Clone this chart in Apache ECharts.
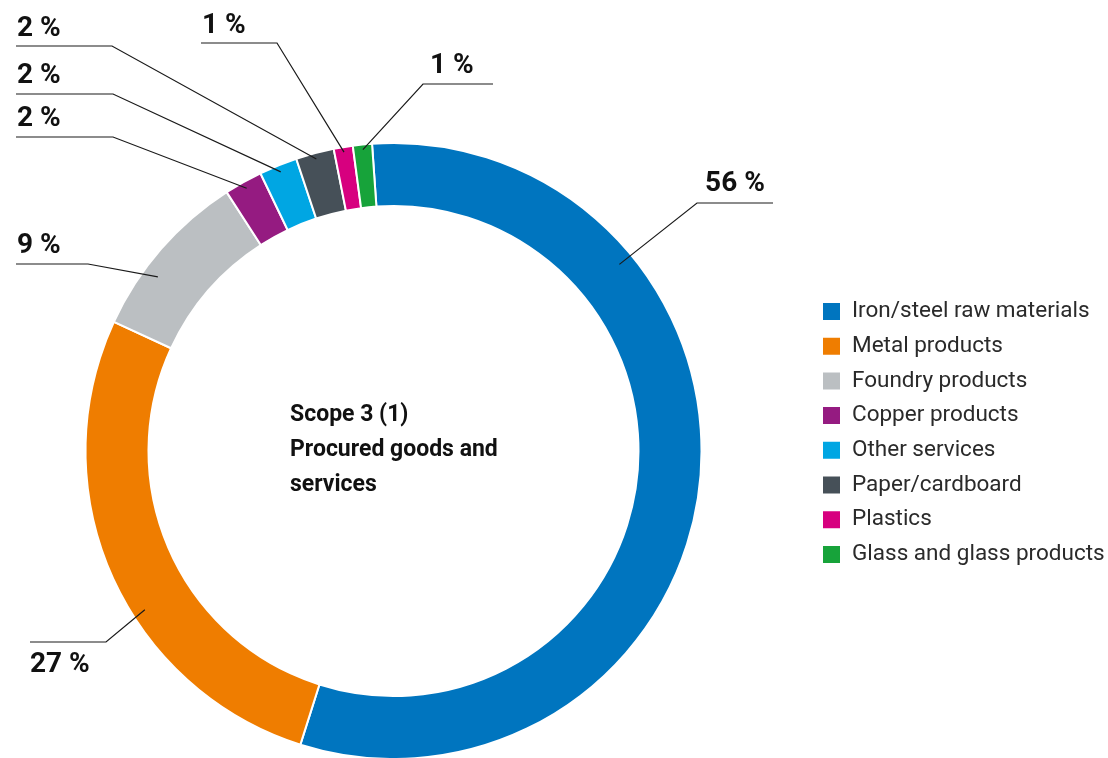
<!DOCTYPE html>
<html>
<head>
<meta charset="utf-8">
<script src="https://cdn.jsdelivr.net/npm/echarts@6/dist/echarts.min.js"></script>
<style>
  html, body { margin: 0; padding: 0; background: #ffffff; }
  #chart { width: 1108px; height: 758px; }
</style>
</head>
<body>
<div id="chart"></div>
<script>
// Scope 3 category 1 breakdown (percent of emissions)
const categories = [
  'Iron/steel raw materials',
  'Metal products',
  'Foundry products',
  'Copper products',
  'Other services',
  'Paper/cardboard',
  'Plastics',
  'Glass and glass products'
];
const shares = [56, 27, 9, 2, 2, 2, 1, 1];
const colors = ['#0075bf', '#ef7d00', '#bbbfc2', '#951b81', '#00a6e3', '#465058', '#d7007f', '#17a33a'];
const centerTitle = ['Scope 3 (1)', 'Procured goods and', 'services'];

// Ring geometry (px) and start angle (deg, ECharts convention)
const CX = 393.5, CY = 451, R_IN = 245, R_OUT = 308, START = 94;

// Callouts: t = position inside the slice (0..1), r = radius of the leader tip,
// elbow / end = horizontal leader segment, text = label anchor
const callouts = [
  { t: 0.27, r: 293, elbow: [697, 203], end: [773, 203], text: [735, 184], align: 'center' },
  { t: 0.41, r: 295, elbow: [106, 642], end: [30, 642],  text: [30, 665],  align: 'left' },
  { t: 0.36, r: 293, elbow: [88, 264],  end: [16, 264],  text: [17, 246],  align: 'left' },
  { t: 0.5,  r: 301, elbow: [113, 137], end: [16, 137],  text: [17, 119],  align: 'left' },
  { t: 0.5,  r: 301, elbow: [113, 94],  end: [16, 94],   text: [17, 76],   align: 'left' },
  { t: 0.5,  r: 302, elbow: [112, 46],  end: [16, 46],   text: [17, 29],   align: 'left' },
  { t: 0.5,  r: 303, elbow: [277, 43],  end: [201, 43],  text: [202, 26],  align: 'left' },
  { t: 0.5,  r: 303, elbow: [423, 84],  end: [493, 84],  text: [430, 66],  align: 'left' }
];

const total = shares.reduce((a, b) => a + b, 0);
const cumulative = shares.map((v, i) => shares.slice(0, i).reduce((a, b) => a + b, 0));

// point on the ring for a slice, following the same clockwise sweep as the pie
function leaderTip(i) {
  const c = callouts[i];
  const deg = (90 - START) + 360 * (cumulative[i] + c.t * shares[i]) / total;
  const rad = deg * Math.PI / 180;
  return [CX + c.r * Math.sin(rad), CY - c.r * Math.cos(rad)];
}

// leader lines drawn on top of the ring
const leaders = callouts.map((c, i) => ({
  type: 'polyline',
  z: 100,
  silent: true,
  shape: { points: [leaderTip(i), c.elbow, c.end] },
  style: { stroke: '#1a1a1a', lineWidth: 1.2, fill: null }
}));

const chart = echarts.init(document.getElementById('chart'), null, { renderer: 'canvas' });

chart.setOption({
  backgroundColor: '#ffffff',
  animation: false,
  color: colors,
  title: {
    text: centerTitle.join('\n'),
    left: 290,
    top: 398,
    padding: 0,
    textStyle: {
      fontFamily: 'Roboto',
      fontSize: 23,
      fontWeight: 'bold',
      lineHeight: 35,
      color: '#111111'
    }
  },
  legend: {
    orient: 'vertical',
    left: 821,
    top: 300,
    padding: 0,
    icon: 'rect',
    itemWidth: 19,
    itemHeight: 19,
    itemGap: 11.7,
    selectedMode: false,
    data: categories,
    textStyle: {
      fontFamily: 'Roboto',
      fontSize: 22.5,
      color: '#2a2a2a',
      padding: [0, 0, 0, 6]
    }
  },
  graphic: { elements: leaders },
  series: [{
    type: 'pie',
    center: [CX, CY],
    radius: [R_IN, R_OUT],
    startAngle: START,
    clockwise: true,
    avoidLabelOverlap: false,
    emphasis: { disabled: true },
    itemStyle: { borderColor: '#ffffff', borderWidth: 2 },
    label: {
      show: true,
      position: 'outside',
      formatter: '{c} %',
      fontFamily: 'Roboto',
      fontSize: 28,
      fontWeight: 'bold',
      color: '#111111'
    },
    labelLine: { show: false },
    labelLayout: function (params) {
      const c = callouts[params.dataIndex];
      return {
        x: c.text[0],
        y: c.text[1],
        align: c.align,
        verticalAlign: 'middle',
        hideOverlap: false
      };
    },
    data: categories.map((name, i) => ({ name: name, value: shares[i] }))
  }]
});
</script>
</body>
</html>
